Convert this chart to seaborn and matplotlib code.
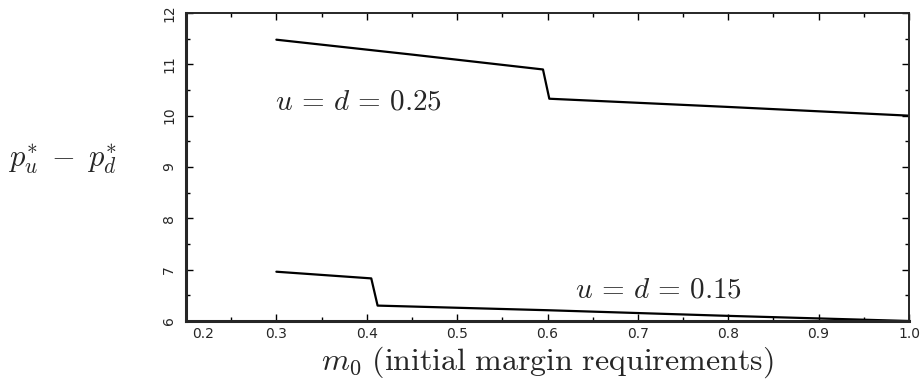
import matplotlib
matplotlib.use("Agg")
import matplotlib.pyplot as plt
import matplotlib.transforms as mtransforms
from matplotlib.ticker import MultipleLocator
import numpy as np
import pandas as pd
import seaborn as sns

# Price spread versus initial margin requirement, two volatility settings
m0_high = [0.30, 0.45, 0.595, 0.602, 0.80, 1.00]
spread_high = [11.48, 11.19, 10.90, 10.33, 10.17, 10.00]

m0_low = [0.30, 0.405, 0.412, 0.60, 0.80, 1.00]
spread_low = [6.96, 6.83, 6.30, 6.21, 6.10, 6.00]

x_ticks = [0.2, 0.3, 0.4, 0.5, 0.6, 0.7, 0.8, 0.9, 1.0]
x_tick_labels = ["0.2", "0.3", "0.4", "0.5", "0.6", "0.7", "0.8", "0.9", "1.0"]
y_ticks = [6, 7, 8, 9, 10, 11, 12]
y_tick_labels = ["6", "7", "8", "9", "10", "11", "12"]

label_high = r"$u\,=\,d\,=\,0.25$"
label_low = r"$u\,=\,d\,=\,0.15$"
x_title = r"$m_0\ \mathrm{(initial\ margin\ requirements)}$"
y_title = r"$p_u^{*}\;-\;p_d^{*}$"

sns.set_style("ticks")
plt.rcParams["mathtext.fontset"] = "cm"
plt.rcParams["font.family"] = ["DejaVu Sans"]

fig = plt.figure(figsize=(9.22, 3.85), dpi=100)
ax = fig.add_axes([186 / 922, 1 - 321 / 385, (909 - 186) / 922, (321 - 13) / 385])

df_high = pd.DataFrame({"m0": m0_high, "spread": spread_high})
df_low = pd.DataFrame({"m0": m0_low, "spread": spread_low})
sns.lineplot(data=df_high, x="m0", y="spread", ax=ax, color="black",
             linewidth=1.6, sort=False, estimator=None)
sns.lineplot(data=df_low, x="m0", y="spread", ax=ax, color="black",
             linewidth=1.6, sort=False, estimator=None)

ax.set_xlim(0.2, 1.0)
ax.set_ylim(6, 12)
ax.set_xlabel("")
ax.set_ylabel("")

ax.set_xticks(x_ticks)
ax.set_xticklabels(x_tick_labels)
ax.set_yticks(y_ticks)
ax.set_yticklabels(y_tick_labels, rotation=90, va="center")
ax.xaxis.set_minor_locator(MultipleLocator(0.05))
ax.yaxis.set_minor_locator(MultipleLocator(0.5))
ax.tick_params(which="both", direction="in", top=True, right=True,
               color="black", width=1.0)
ax.tick_params(which="major", length=5, labelsize=10)
ax.tick_params(axis="x", which="major", pad=4)
ax.tick_params(axis="y", which="major", pad=7)
ax.tick_params(which="minor", length=3)

# keep the first x label inside the frame
first = ax.get_xticklabels()[0]
first.set_horizontalalignment("left")
first.set_transform(first.get_transform() +
                    mtransforms.ScaledTranslation(6 / 100, 0, fig.dpi_scale_trans))

for side in ["left", "bottom"]:
    ax.spines[side].set_linewidth(2.2)
for side in ["top", "right"]:
    ax.spines[side].set_linewidth(1.4)
    ax.spines[side].set_visible(True)

ax.text(0.298, 10.27, label_high, fontsize=21, ha="left", va="center")
ax.text(0.630, 6.62, label_low, fontsize=21, ha="left", va="center")

fig.text(547 / 922, 1 - 362 / 385, x_title, fontsize=23, ha="center", va="center")
fig.text(63 / 922, 1 - 160 / 385, y_title, fontsize=22, ha="center", va="center")

fig.savefig("out.png", dpi=100)
